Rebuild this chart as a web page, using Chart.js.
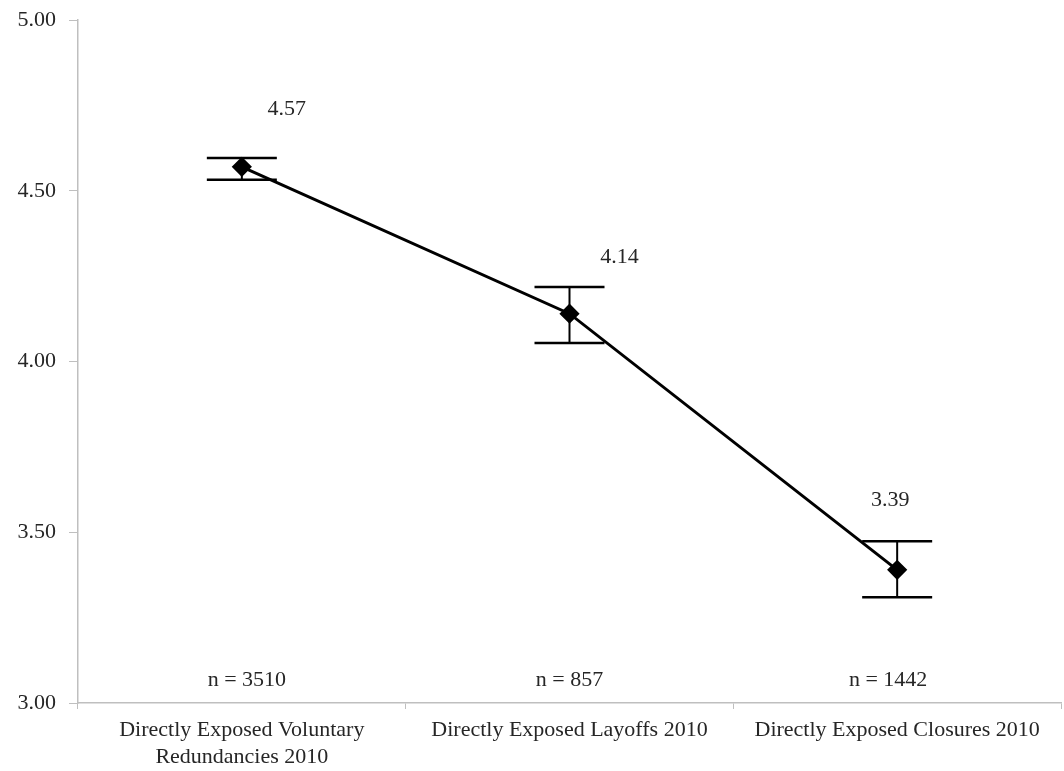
<!DOCTYPE html>
<html>
<head>
<meta charset="utf-8">
<script src="https://cdn.jsdelivr.net/npm/chart.js@4/dist/chart.umd.min.js"></script>
<style>
   html, body { margin: 0; padding: 0; background: #fff; overflow: hidden; }
   #wrap { width: 1064px; height: 771px; overflow: hidden; }
   canvas { display: block; }
</style>
</head>
<body>
<!-- canvas a bit wider than the window: Chart.js keeps ~10px free on the right -->
<div id="wrap"><canvas id="myChart" width="1072" height="771"></canvas></div>
<script>
"use strict";

// data
const categories = [
   ["Directly Exposed Voluntary", "Redundancies 2010"],
   "Directly Exposed Layoffs 2010",
   "Directly Exposed Closures 2010",
];
const means = [4.57, 4.14, 3.39];
const errLow = [4.532, 4.054, 3.31];
const errHigh = [4.596, 4.218, 3.474];
const sampleSizes = ["n = 3510", "n = 857", "n = 1442"];
const yTicks = [3.0, 3.5, 4.0, 4.5, 5.0];

const FONT = "'Liberation Serif', 'Times New Roman', serif";
const TEXT = "#262626";
const AXIS = "#bfbfbf";

// error bars, value labels and n labels
const extrasPlugin = {
   id: "extras",
   beforeDatasetsDraw(chart) {
      const { ctx, scales } = chart;
      const x = scales.x, y = scales.y;
      ctx.save();
      ctx.strokeStyle = "#000";
      ctx.lineCap = "butt";
      means.forEach((m, i) => {
         const px = x.getPixelForValue(i);
         const top = y.getPixelForValue(errHigh[i]);
         const bot = y.getPixelForValue(errLow[i]);
         ctx.lineWidth = 2;
         ctx.beginPath();
         ctx.moveTo(px, top);
         ctx.lineTo(px, bot);
         ctx.stroke();
         ctx.lineWidth = 2.5;
         ctx.beginPath();
         ctx.moveTo(px - 35, top);
         ctx.lineTo(px + 35, top);
         ctx.moveTo(px - 35, bot);
         ctx.lineTo(px + 35, bot);
         ctx.stroke();
      });
      ctx.restore();
   },
   afterDatasetsDraw(chart) {
      const { ctx, scales } = chart;
      const x = scales.x, y = scales.y;
      // text boxes sit a little off the points in the original
      const labelOffsets = [[45, -58], [50, -56], [-7, -70]];
      const nOffsets = [5, 0, -9];
      ctx.save();
      ctx.font = "22px " + FONT;
      ctx.fillStyle = TEXT;
      ctx.textAlign = "center";
      ctx.textBaseline = "middle";
      means.forEach((m, i) => {
         const px = x.getPixelForValue(i);
         const py = y.getPixelForValue(m);
         ctx.fillText(m.toFixed(2), px + labelOffsets[i][0], py + labelOffsets[i][1]);
         ctx.fillText(sampleSizes[i], px + nOffsets[i], y.bottom - 23);
      });
      ctx.restore();
   },
};

const ctx = document.getElementById("myChart").getContext("2d");
const myChart = new Chart(ctx, {
   type: "line",
   data: {
      labels: categories,
      datasets: [
         {
            data: means,
            borderColor: "#000",
            borderWidth: 3,
            pointStyle: "rectRot",
            pointRadius: 8,
            pointBackgroundColor: "#000",
            pointBorderColor: "#000",
            tension: 0,
         },
      ],
   },
   options: {
      responsive: false,
      animation: false,
      layout: { padding: { top: 20, right: 2, left: 0, bottom: 0 } },
      plugins: {
         legend: { display: false },
         tooltip: { enabled: false },
      },
      scales: {
         x: {
            offset: true,
            grid: {
               offset: true,
               drawOnChartArea: false,
               color: AXIS,
               tickLength: 6,
            },
            border: { color: AXIS, width: 1.5 },
            ticks: {
               color: TEXT,
               font: { family: FONT, size: 22, lineHeight: 1.22 },
               maxRotation: 0,
               autoSkip: false,
               padding: 8,
            },
            afterFit: (s) => {
               s.height = 68;
               s.paddingLeft = 0;
               s.paddingRight = 0;
            },
         },
         y: {
            min: 3,
            max: 5,
            afterBuildTicks: (s) => { s.ticks = yTicks.map((v) => ({ value: v })); },
            grid: {
               drawOnChartArea: false,
               color: AXIS,
               tickLength: 9,
            },
            border: { color: AXIS, width: 1.5 },
            ticks: {
               color: TEXT,
               font: { family: FONT, size: 22 },
               padding: 13,
               callback: (v) => Number(v).toFixed(2),
            },
            afterFit: (s) => {
               s.width = 78;
               s.paddingTop = 0;
               s.paddingBottom = 0;
            },
         },
      },
   },
   plugins: [extrasPlugin],
});
</script>
</body>
</html>
